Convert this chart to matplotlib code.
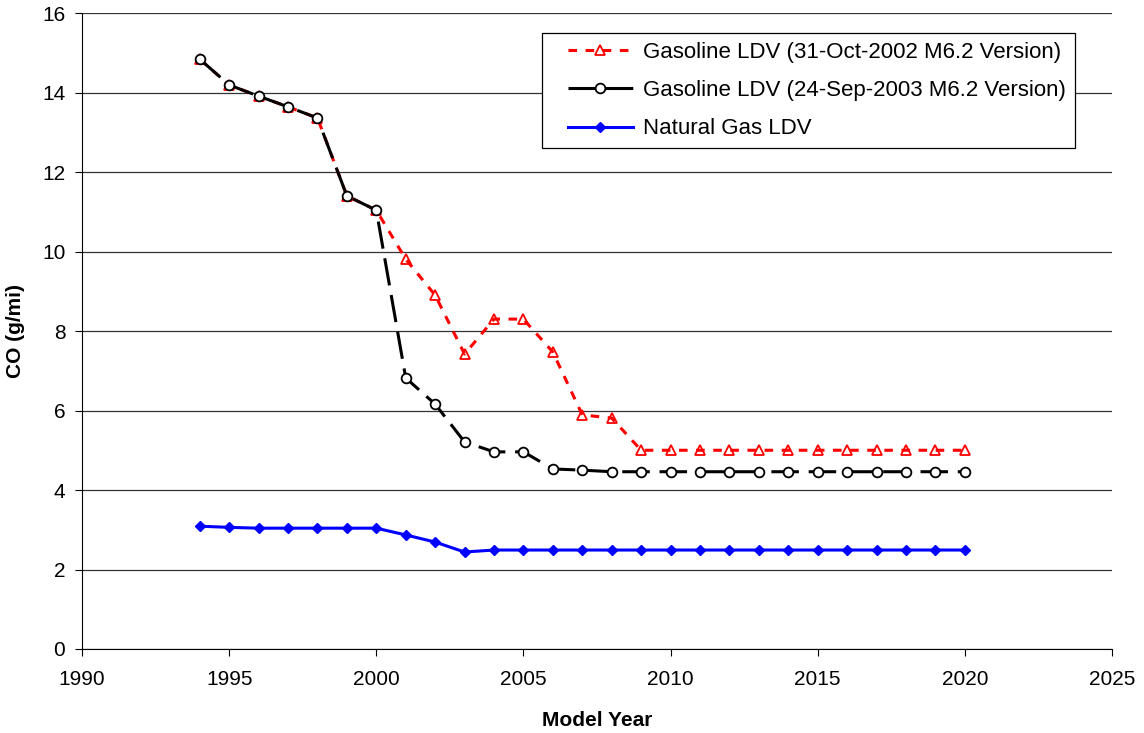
import matplotlib
matplotlib.use("Agg")
import matplotlib.pyplot as plt
from matplotlib.legend_handler import HandlerLine2D

plt.rcParams['font.family'] = ['Liberation Sans', 'DejaVu Sans']

years = list(range(1994, 2021))
gas_2002 = [14.84, 14.19, 13.91, 13.64, 13.36, 11.40, 11.04, 9.81, 8.90, 7.42,
            8.30, 8.30, 7.47, 5.89, 5.81, 5.0, 5.0, 5.0, 5.0, 5.0,
            5.0, 5.0, 5.0, 5.0, 5.0, 5.0, 5.0]
gas_2003 = [14.84, 14.19, 13.91, 13.64, 13.36, 11.40, 11.04, 6.82, 6.16, 5.21,
            4.96, 4.96, 4.53, 4.50, 4.46, 4.46, 4.46, 4.46, 4.46, 4.46,
            4.46, 4.46, 4.46, 4.46, 4.46, 4.46, 4.46]
natgas = [3.09, 3.06, 3.04, 3.04, 3.04, 3.04, 3.04, 2.87, 2.69, 2.44,
          2.49, 2.49, 2.49, 2.49, 2.49, 2.49, 2.49, 2.49, 2.49, 2.49,
          2.49, 2.49, 2.49, 2.49, 2.49, 2.49, 2.49]

fig = plt.figure(figsize=(11.44, 7.33), dpi=100)
ax = fig.add_axes([0.0717, 0.1146, 0.9003, 0.8676])

l1, = ax.plot(years, gas_2002, color='red', lw=2.2, dashes=(2.8, 2.8),
              marker='^', ms=7.5, mfc='none', mec='red', mew=1.3,
              label='Gasoline LDV (31-Oct-2002 M6.2 Version)', zorder=3)
l2, = ax.plot(years, gas_2003, color='black', lw=2.2, dashes=(9, 3.2),
              marker='o', ms=7, mfc='white', mec='black', mew=1.3,
              label='Gasoline LDV (24-Sep-2003 M6.2 Version)', zorder=4)
l3, = ax.plot(years, natgas, color='blue', lw=2.2,
              marker='D', ms=5.5, mfc='blue', mec='blue',
              label='Natural Gas LDV', zorder=3)

ax.set_xlim(1990, 2025)
ax.set_ylim(0, 16)
ax.set_xticks(range(1990, 2026, 5))
ax.set_yticks(range(0, 17, 2))
ax.yaxis.grid(True, color='#333333', lw=0.9)
ax.set_axisbelow(True)
for s in ['top', 'right']:
    ax.spines[s].set_visible(False)
ax.tick_params(labelsize=15, direction='out', length=5)
ax.tick_params(axis='x', pad=10)
ax.tick_params(axis='y', pad=7)

ax.set_xlabel('Model Year', fontsize=15, fontweight='bold', labelpad=16)
ax.set_ylabel('CO (g/mi)', fontsize=15, fontweight='bold', labelpad=12)

# shift legend handles right a bit, like the original box
hmap = {h: HandlerLine2D(xpad=0.75) for h in (l1, l2, l3)}
leg = ax.legend(loc='upper right', bbox_to_anchor=(0.964, 0.969),
                borderaxespad=0, fontsize=16, handler_map=hmap,
                fancybox=False, framealpha=1, edgecolor='black',
                handlelength=3.7, handletextpad=0.45, borderpad=0.4,
                labelspacing=0.78)
leg.get_frame().set_linewidth(0.9)

fig.savefig('out.png', dpi=100)
